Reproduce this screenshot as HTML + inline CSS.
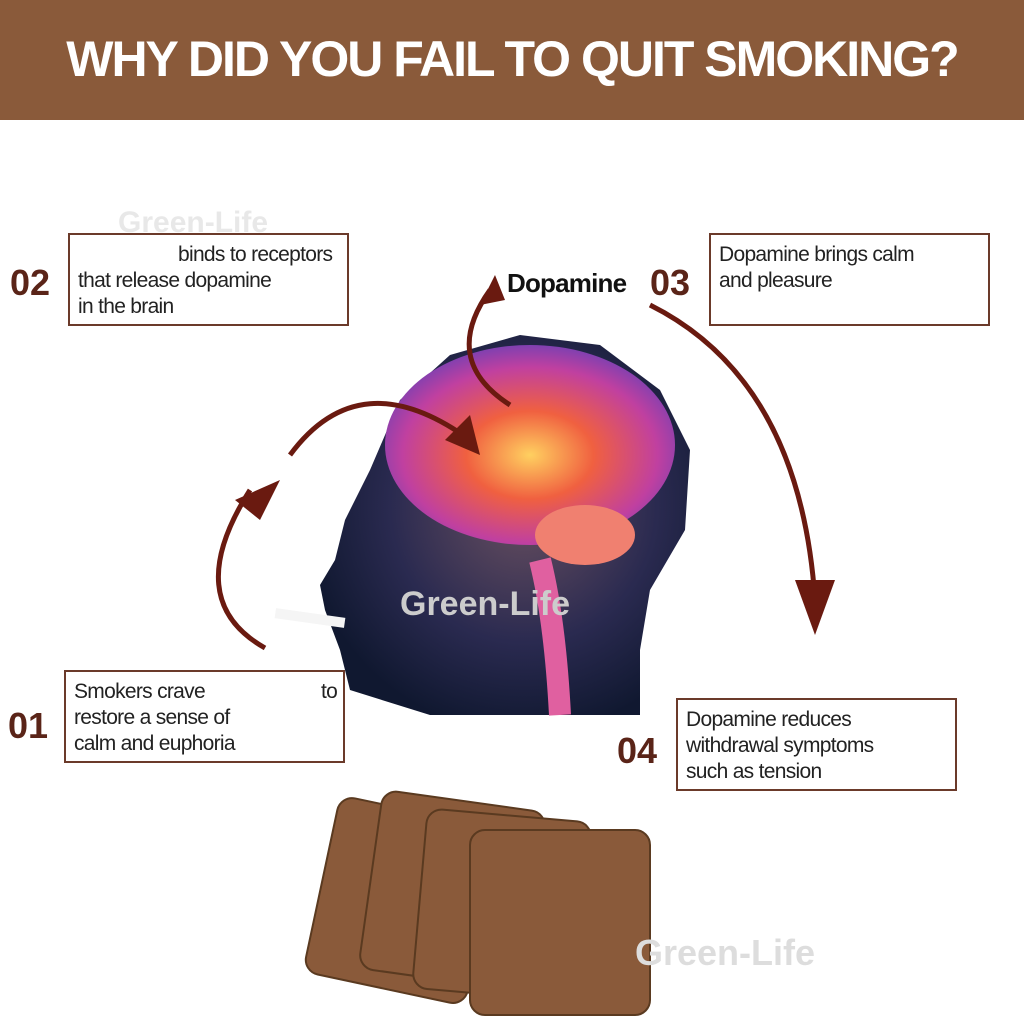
<!DOCTYPE html>
<html><head><meta charset="utf-8"><style>
body{margin:0;width:1024px;height:1024px;background:#fff;overflow:hidden;font-family:"Liberation Sans",sans-serif;position:relative}
.hdr{position:absolute;left:0;top:0;width:1024px;height:120px;background:#8a5a3a;color:#fff;font-weight:bold;font-size:50px;text-align:center;line-height:118px;letter-spacing:-2px}
.box{position:absolute;border:2px solid #6b3a2a;background:#fff;font-size:21px;color:#222;line-height:26px;padding:7px 8px;box-sizing:border-box;white-space:nowrap;letter-spacing:-0.7px}
.num{position:absolute;font-weight:bold;font-size:36px;color:#5a2418}
</style></head><body>
<div class="hdr">WHY DID YOU FAIL TO QUIT SMOKING?</div>
<svg width="1024" height="1024" style="position:absolute;left:0;top:0">
<defs>
<radialGradient id="hd" cx="0.55" cy="0.45" r="0.6"><stop offset="0" stop-color="#6a5060"/><stop offset="0.6" stop-color="#2a2a50"/><stop offset="1" stop-color="#101830"/></radialGradient>
<radialGradient id="br" cx="0.5" cy="0.55" r="0.55"><stop offset="0" stop-color="#ffd060"/><stop offset="0.4" stop-color="#f06040"/><stop offset="0.8" stop-color="#c040a0"/><stop offset="1" stop-color="#8040b0"/></radialGradient>
</defs>
<path d="M430 715 L350 690 L340 650 L325 610 L320 585 L335 560 L345 520 L370 470 L400 400 L450 355 L520 335 L600 345 L660 390 L690 450 L685 530 L650 590 L640 650 L640 715 Z" fill="url(#hd)"/>
<ellipse cx="530" cy="445" rx="145" ry="100" fill="url(#br)"/>
<ellipse cx="585" cy="535" rx="50" ry="30" fill="#f08070"/>
<path d="M540 560 Q555 620 560 715" stroke="#e060a0" stroke-width="22" fill="none"/>
<g fill="#8a5a3a" stroke="#5a3a20" stroke-width="2">
<rect x="320" y="810" width="165" height="180" rx="15" transform="rotate(12 400 900)"/>
<rect x="370" y="800" width="165" height="180" rx="15" transform="rotate(8 450 890)"/>
<rect x="420" y="815" width="165" height="180" rx="15" transform="rotate(5 500 900)"/>
<rect x="470" y="830" width="180" height="185" rx="15"/>
</g>
<g stroke="#6a1a10" stroke-width="5" fill="none">
<path d="M265 648 Q180 600 250 490"/>
<path d="M290 455 Q360 360 470 440"/>
<path d="M510 405 Q440 360 490 290"/>
<path d="M650 305 Q800 380 815 600"/>
</g>
<g fill="#6a1a10">
<polygon points="235,500 280,480 260,520"/>
<polygon points="480,455 445,440 470,415"/>
<polygon points="495,275 480,305 505,300"/>
<polygon points="815,635 795,580 835,580"/>
</g>
<rect x="275" y="613" width="70" height="10" fill="#f5f5f5" transform="rotate(8 310 618)"/>
<text x="400" y="615" font-family="Liberation Sans" font-weight="bold" font-size="34" fill="#ccc">Green-Life</text>
<text x="635" y="965" font-family="Liberation Sans" font-weight="bold" font-size="36" fill="#ddd">Green-Life</text>
<text x="118" y="232" font-family="Liberation Sans" font-weight="bold" font-size="30" fill="#e8e8e8">Green-Life</text>
</svg>
<div class="box" style="left:68px;top:233px;width:281px;height:93px"><span style="padding-left:100px">binds to receptors</span><br>that release dopamine<br>in the brain</div>
<div class="num" style="left:10px;top:262px">02</div>
<div class="box" style="left:709px;top:233px;width:281px;height:93px">Dopamine brings calm<br>and pleasure</div>
<div class="num" style="left:650px;top:262px">03</div>
<div style="position:absolute;left:507px;top:268px;font-weight:bold;font-size:26px;color:#111;letter-spacing:-0.8px">Dopamine</div>
<div class="box" style="left:64px;top:670px;width:281px;height:93px">Smokers crave<span style="position:absolute;left:255px">to</span><br>restore a sense of<br>calm and euphoria</div>
<div class="num" style="left:8px;top:705px">01</div>
<div class="box" style="left:676px;top:698px;width:281px;height:93px">Dopamine reduces<br>withdrawal symptoms<br>such as tension</div>
<div class="num" style="left:617px;top:730px">04</div>
</body></html>
